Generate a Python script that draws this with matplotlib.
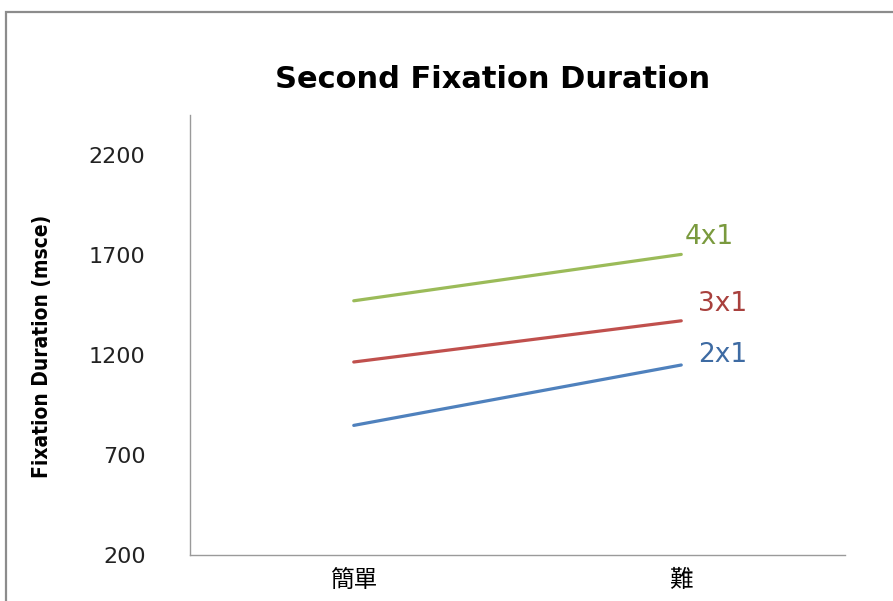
import matplotlib.pyplot as plt
from matplotlib.patches import Rectangle

plt.rcParams['font.family'] = ['DejaVu Sans', 'Noto Sans CJK TC']

# mean second fixation duration per difficulty level
levels = ['簡單', '難']
series_names = ['2x1', '3x1', '4x1']
dur_2x1 = [848, 1150]
dur_3x1 = [1165, 1371]
dur_4x1 = [1471, 1703]
yticks = [200, 700, 1200, 1700, 2200]

line_colors = ['#4F81BD', '#C0504D', '#9BBB59']
text_colors = ['#3E6BA3', '#A8403D', '#7A9A3E']
label_offsets = [(17, 10), (17, 17), (3, 17)]


def main():
    fig = plt.figure(figsize=(8.93, 6.01), dpi=100)
    ax = fig.add_axes([190 / 893, 1 - 555 / 601, 655 / 893, 440 / 601])

    # outer chart-area frame
    fig.patches.append(Rectangle((6 / 893, -0.1), 1.2, 1.1 - 12 / 601,
                                 transform=fig.transFigure, fill=False,
                                 edgecolor='#8C8C8C', linewidth=1.6))

    x = list(range(len(levels)))
    for name, vals, lc, tc, off in zip(series_names, [dur_2x1, dur_3x1, dur_4x1],
                                       line_colors, text_colors, label_offsets):
        ax.plot(x, vals, color=lc, linewidth=2.3, solid_capstyle='round')
        ax.annotate(name, xy=(x[-1], vals[-1]), xytext=(off[0] * 0.72, off[1] * 0.72),
                    textcoords='offset points', color=tc, fontsize=19,
                    ha='left', va='center')

    ax.set_xlim(-0.5, 1.5)
    ax.set_ylim(200, 2400)
    ax.set_xticks(x)
    ax.set_xticklabels(levels, family=['Noto Sans CJK TC'], fontsize=17)
    ax.set_yticks(yticks)
    ax.tick_params(axis='y', length=0, pad=32, labelsize=16, labelcolor='#222222')
    ax.tick_params(axis='x', length=0, pad=10)

    for side in ['top', 'right']:
        ax.spines[side].set_visible(False)
    for side in ['left', 'bottom']:
        ax.spines[side].set_color('#9A9A9A')
        ax.spines[side].set_linewidth(1.0)

    fig.text(42 / 893, 1 - 346 / 601, 'Fixation Duration (msce)', rotation=90,
             ha='center', va='center', fontsize=15, fontweight='bold',
             fontstretch='condensed')
    fig.text(493 / 893, 1 - 79 / 601, 'Second Fixation Duration', ha='center',
             va='center', fontsize=22, fontweight='bold')

    fig.savefig('out.png', dpi=100, facecolor='white')
    plt.close(fig)


if __name__ == "__main__":
    main()
